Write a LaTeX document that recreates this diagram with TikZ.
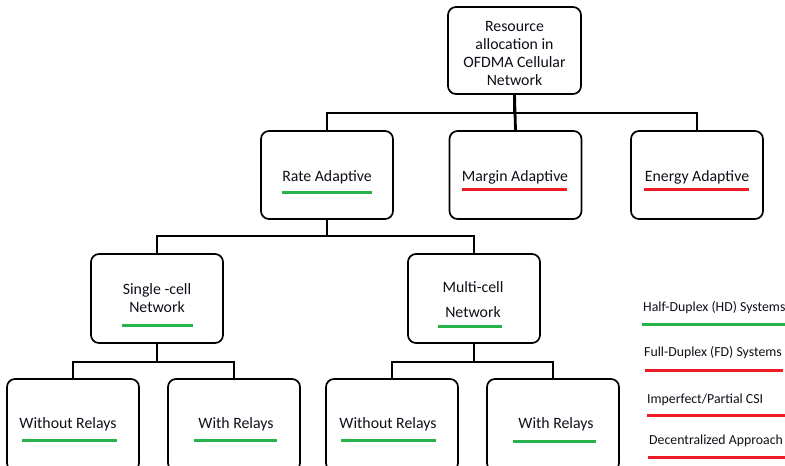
\documentclass[tikz,border=0pt]{standalone}
\usepackage{fontspec}
\setmainfont{Carlito}
\definecolor{ulgreen}{RGB}{40,178,75}
\definecolor{ulred}{RGB}{237,28,36}
\definecolor{txt}{RGB}{15,15,25}
\begin{document}
\begin{tikzpicture}[x=1pt,y=-1pt,
  box/.style={draw=black, rounded corners=8pt, line width=1.7pt, minimum width=132pt, minimum height=88pt, inner sep=0pt, fill=white},
  lbl/.style={font=\fontsize{15.8}{18}\selectfont, inner sep=0pt, align=center, text=txt, anchor=base},
  leg/.style={font=\fontsize{13.8}{16}\selectfont, inner sep=0pt, anchor=base west, text=txt},
  conn/.style={line width=2.8pt, line join=miter, draw=black},
  ulg/.style={line width=3pt, draw=ulgreen},
  ulr/.style={line width=3pt, draw=ulred}]
\useasboundingbox (0,0) rectangle (785,466);
\clip (0,0) rectangle (785,466);
\fill[white] (0,0) rectangle (785,466);

% bus coordinates
\coordinate (b1) at (0,113);
\coordinate (b2) at (0,236);
\coordinate (b3) at (0,362);

% boxes
\node[box, minimum width=133pt, minimum height=87pt] (top) at (514.5,50.5) {};
\node[box] (rate) at (327,175) {};
\node[box] (margin) at (515.5,175) {};
\node[box] (energy) at (697,175) {};
\node[box, minimum height=89pt] (single) at (157,298.5) {};
\node[box, minimum height=89pt] (multi) at (474,298.5) {};
\node[box, minimum height=92pt] (wr1) at (73,425) {};
\node[box, minimum height=92pt] (r1) at (234,425) {};
\node[box, minimum height=92pt] (wr2) at (392,425) {};
\node[box, minimum height=92pt] (r2) at (553,425) {};

% connectors
\draw[conn] (top.south) |- (rate.north |- b1) -- (rate.north);
\draw[conn] (top.south) |- (energy.north |- b1) -- (energy.north);
\draw[conn] (top.south) -- (margin.north);
\draw[conn] (rate.south) |- (single.north |- b2) -- (single.north);
\draw[conn] (rate.south) |- (multi.north |- b2) -- (multi.north);
\draw[conn] (single.south) |- (wr1.north |- b3) -- (wr1.north);
\draw[conn] (single.south) |- (r1.north |- b3) -- (r1.north);
\draw[conn] (multi.south) |- (wr2.north |- b3) -- (wr2.north);
\draw[conn] (multi.south) |- (r2.north |- b3) -- (r2.north);

% labels
\node[lbl, anchor=center] (topT) at (514.5,53) {Resource\\allocation in\\OFDMA Cellular\\Network};
\node[lbl] (rateT) at (327,181) {Rate Adaptive};
\node[lbl] (marginT) at (515,181) {Margin Adaptive};
\node[lbl] (energyT) at (697,181) {Energy Adaptive};
\node[lbl] (singleT1) at (157,294) {Single -cell};
\node[lbl] (singleT2) at (157,312) {Network};
\node[lbl] (multiT1) at (473,292) {Multi-cell};
\node[lbl] (multiT2) at (473,317) {Network};
\node[lbl] (wr1T) at (68,428) {Without Relays};
\node[lbl] (r1T) at (236,428) {With Relays};
\node[lbl] (wr2T) at (388,428) {Without Relays};
\node[lbl] (r2T) at (556,428) {With Relays};

% underlines
\draw[ulg] (282,192) -- (372,192);
\draw[ulr] (462,189) -- (567,189);
\draw[ulr] (644,189) -- (749,189);
\draw[ulg] (122,325) -- (193,325);
\draw[ulg] (438,326) -- (502,326);
\draw[ulg] (22,440) -- (117,440);
\draw[ulg] (194,440) -- (277,440);
\draw[ulg] (341,440) -- (436,440);
\draw[ulg] (513,441) -- (596,441);

% legend
\node[leg] (hd) at (643,311) {Half-Duplex (HD) Systems};
\draw[ulg] (642,324) -- (786,324);
\node[leg] (fd) at (644,356) {Full-Duplex (FD) Systems};
\draw[ulr] (645,370) -- (783,370);
\node[leg] (csi) at (647,403) {Imperfect/Partial CSI};
\draw[ulr] (647,415) -- (786,415);
\node[leg] (dec) at (649,444) {Decentralized Approach};
\draw[ulr] (648,457) -- (786,457);
\end{tikzpicture}
\end{document}
